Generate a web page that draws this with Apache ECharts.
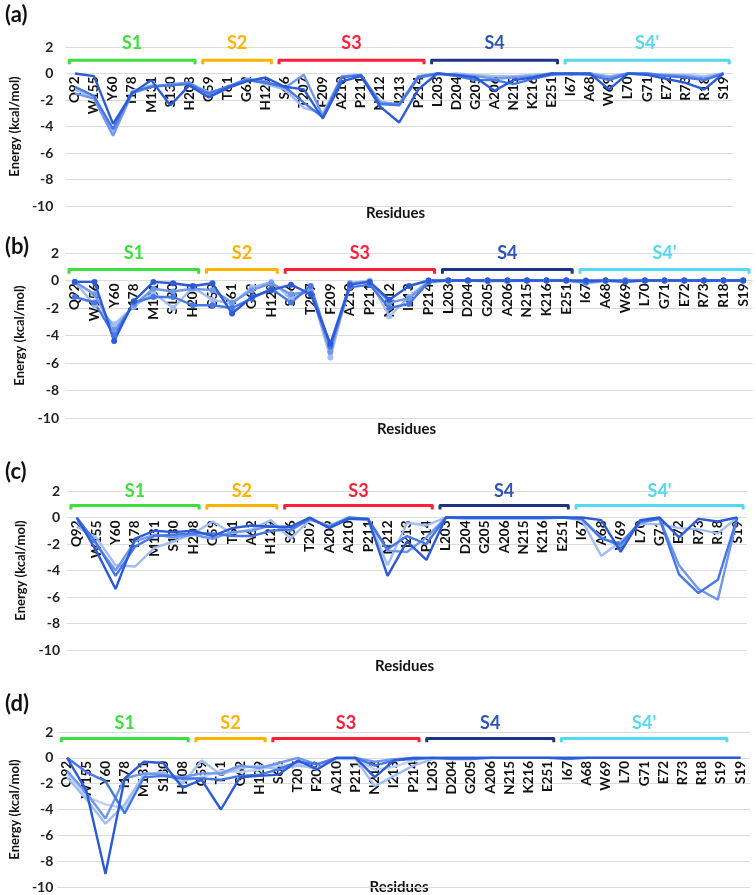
<!DOCTYPE html>
<html>
<head>
<meta charset="utf-8">
<script src="https://cdn.jsdelivr.net/npm/echarts@6/dist/echarts.min.js"></script>
<style>html,body{margin:0;padding:0;background:#fff}#c{width:756px;height:895px}</style>
</head>
<body>
<div id="c"></div>
<script>
// ---------- categories (tick labels) ----------
const catsA = ['Q92','W155','Y60','I178','M131','S130','H208','G59','T61','G62','H129','S66','T207','F209','A210','P211','N212','I213','P214','L203','D204','G205','A206','N215','K216','E251','I67','A68','W69','L70','G71','E72','R73','R18','S19'];
const catsB = ['Q92','W156','Y60','I178','M131','S130','H208','G59','T61','G62','H129','S66','T207','F209','A210','P211','N212','I213','P214','L203','D204','G205','A206','N215','K216','E251','I67','A68','W69','L70','G71','E72','R73','R18','S19'];
const catsC = ['Q92','W155','Y60','I178','M131','S130','H208','G59','T61','A62','H129','S66','T207','A209','A210','P211','N212','I213','P214','L203','D204','G205','A206','N215','K216','E251','I67','A68','W69','L70','G71','E72','R73','R18','S19'];
const catsD = ['Q92','W155','Y60','I178','M131','S130','H208','G59','T61','G62','H129','S66','T207','F209','A210','P211','N212','I213','P214','L203','D204','G205','A206','N215','K216','E251','I67','A68','W69','L70','G71','E72','R73','R18','S19','S19'];

const yTicks = [2, 0, -2, -4, -6, -8, -10];

// ---------- series values (kcal/mol) ----------
const a1 = [0,-0.2,-3.8,-1.5,-0.5,-2.4,-0.9,-1.8,-1.1,-0.6,-0.3,-1.0,-1.2,-3.4,-0.6,-0.2,-2.5,-3.7,-1.2,0,-0.1,-0.3,-1.3,-0.5,-0.3,0,0,0,-1.2,0,-0.1,-0.4,-0.7,-1.2,0];
const a2 = [-1.0,-1.7,-4.2,-1.4,-1.0,-0.9,-0.8,-1.5,-1.0,-0.5,-0.7,-1.0,-2.2,-3.3,-0.3,-0.1,-2.3,-2.4,-0.3,0,-0.2,-0.5,-0.5,-0.8,-0.4,-0.1,0,-0.1,-0.5,0,0,-0.2,-0.3,-0.5,0];
const a3 = [-1.5,-1.9,-4.7,-1.5,-1.0,-0.8,-0.7,-1.6,-1.0,-0.4,-0.6,-1.1,-0.1,-3.2,-0.2,-0.1,-2.2,-2.3,-0.2,0,-0.1,-0.2,-0.4,-0.3,-0.2,0,-0.1,0,-0.3,0,-0.1,-0.1,-0.2,-0.4,0];
const a4 = [-1.2,-1.8,-4.4,-1.3,-0.9,-0.9,-0.7,-1.4,-1.1,-0.4,-0.8,-1.2,-2.6,-3.0,-0.2,-0.2,-2.1,-2.4,-0.3,-0.1,0,-0.1,-0.2,-0.2,-0.1,0,0,0,-0.2,0,0,-0.1,-0.1,-0.2,0];

const b1 = [-0.1,-0.1,-4.4,-1.5,-0.1,-0.2,-0.4,-0.2,-2.4,-1.2,-0.7,-0.3,-1.0,-4.6,-0.3,-0.1,-1.4,-0.4,0,0,0,0,0,0,0,0,0,0,-0.1,0,0,0,0,0,0];
const b2 = [-1.2,-1.6,-4.0,-1.6,-1.2,-1.2,-1.8,-1.8,-2.0,-1.3,-0.6,-1.6,-0.4,-4.8,-0.5,-0.3,-2.0,-1.7,-0.1,0,0,0,0,0,0,0,-0.1,0,0,0,0,0,0,0,0];
const b3 = [-0.1,-1.0,-3.6,-1.8,-0.6,-0.8,-0.6,-0.7,-1.6,-0.7,-0.2,-1.0,-0.8,-5.2,-0.2,-0.1,-1.6,-1.3,-0.1,0,0,-0.05,0,0,0,0,-0.15,0,0,0,0,0,0,0,0];
const b4 = [-0.1,-1.8,-3.2,-1.9,-0.9,-2.0,-0.5,-1.4,-1.7,-0.5,-0.1,-1.3,-0.7,-5.6,-0.2,0,-2.6,-1.2,0,0,0,0,-0.05,0,0,0,-0.2,-0.05,-0.05,0,0,0,0,0,0];

const c1 = [0,-2.5,-5.4,-1.6,-1.0,-1.1,-1.0,-1.4,-0.8,-0.6,-0.7,-0.7,0,-0.8,-0.1,-0.1,-4.4,-1.8,-3.2,0,0,0,0,0,0,0,0,-0.2,-2.6,-0.2,0,-1.5,-0.1,-0.3,0];
const c2 = [0,-1.9,-4.4,-2.2,-1.4,-1.3,-1.2,-1.2,-1.4,-1.4,-1.0,-0.9,-0.1,-0.7,0,-0.1,-2.4,-1.4,-2.0,0,0,0,0,0,0,0,-0.1,-1.6,-2.0,-0.3,-0.1,-4.3,-5.7,-4.7,0];
const c3 = [-0.3,-2.0,-4.0,-1.8,-1.3,-1.5,-1.3,-1.6,-1.1,-1.0,-0.6,-1.0,-0.1,-0.7,-0.1,-0.2,-2.5,-2.6,-1.5,0,0,0,0,0,0,0,-0.1,-1.5,-2.2,-0.4,-0.1,-3.6,-5.4,-6.2,0];
const c4 = [-0.7,-1.5,-3.6,-3.7,-2.3,-1.8,-1.2,-0.3,-1.2,-0.9,-0.2,-1.6,-0.2,-0.6,0,-0.1,-3.6,-0.4,-0.6,0,-0.1,-0.1,-0.1,-0.1,-0.1,0,-0.2,-2.9,-1.8,-0.5,-0.5,-0.8,-0.9,-1.2,0];

const d1 = [0,-2.5,-9.0,-1.6,-0.3,-0.4,-2.3,-1.7,-4.0,-1.5,-1.4,-1.3,-0.2,-0.9,0,0,-1.5,-0.2,0,0,0,0,0,0,0,0,0,0,0,0,0,0,0,0,0,0];
const d2 = [0,-1.1,-1.8,-4.3,-1.5,-1.4,-1.6,-1.6,-1.7,-1.4,-1.3,-0.9,-0.3,-0.5,0,0,-0.6,-0.2,-0.1,0,-0.1,-0.1,0,0,0,0,-0.1,0,0,0,0,0,0,0,0,0];
const d3 = [-1.0,-2.7,-4.7,-1.6,-1.2,-1.3,-1.5,-1.2,-1.2,-0.6,-0.8,-0.4,0,-0.5,0,0,-0.3,-0.1,0,0,0,0,0,0,0,0,0,0,0,0,0,0,0,0,0,0];
const d4 = [-1.5,-3.2,-5.1,-3.6,-1.3,-1.1,-2.0,-0.2,-1.3,-0.8,-0.6,-0.9,-0.6,-0.8,-0.1,-0.1,-2.2,-1.4,-0.6,-0.1,0,0,0,0,0,0,0,0,0,0,0,0,0,0,0,0];
const d5 = [-1.2,-3.0,-3.6,-3.9,-1.2,-1.2,-1.8,-1.5,-1.0,-1.1,-0.9,-0.6,-0.5,-0.9,0,-0.1,-0.9,-0.7,-0.2,0,0,0,0,0,0,0,0,0,0,0,0,0,0,0,0,0];

// ---------- subsite groups (first / last residue, label) ----------
const groupNames = ['S1','S2','S3','S4',"S4'"];
const groupFrom  = ['Q92','G59','S66','L203','I67'];
const groupTo    = ['H208','H129','P214','E251','S19'];

// ---------- styles / layout ----------
const lineColors = ['#2b5bd7','#4677e4','#6f97ec','#a1bdf3','#bdd1f7'];
const groupTextColors = ['#3ddf3d','#ffb300','#ff1f3a','#2d55b5','#55d8f2'];
const groupLineColors = ['#3ddf3d','#ffb300','#ff1f3a','#1c3486','#55d8f2'];
const FONT = 'Lato, "Open Sans", sans-serif';
const Y_MIN = yTicks[yTicks.length - 1], Y_MAX = yTicks[0];

const panels = [
  {tag:'(a)', cats:catsA, series:[a1,a2,a3,a4], grid:{left:63, top:47, width:670, height:159}, lblMargin:12, nameGap:33, brk:1.0, txt:2.3, marks:false, tagTop:4, resTop:206},
  {tag:'(b)', cats:catsB, series:[b1,b2,b3,b4], grid:{left:65, top:253, width:688, height:165}, lblMargin:6, nameGap:35, brk:0.8, txt:2.0, marks:true, tagTop:236, resTop:422},
  {tag:'(c)', cats:catsC, series:[c1,c2,c3,c4], grid:{left:67, top:491, width:680, height:159}, lblMargin:7, nameGap:33, brk:0.9, txt:2.0, marks:false, tagTop:461, resTop:659},
  {tag:'(d)', cats:catsD, series:[d1,d2,d3,d4,d5], grid:{left:53, top:732, width:697, height:155}, lblMargin:4, nameGap:36, brk:1.5, txt:2.7, marks:false, tagTop:693, resTop:880}
];

const grids = [], xAxes = [], yAxes = [], series = [], graphics = [];
panels.forEach((p, gi) => {
  grids.push(Object.assign({containLabel:false}, p.grid));
  // category axis sits on the zero line of the value axis
  const zeroOffset = -p.grid.height * (0 - Y_MIN) / (Y_MAX - Y_MIN);
  xAxes.push({
    type:'category', gridIndex:gi, data:p.cats, boundaryGap:true, position:'bottom', offset:zeroOffset,
    axisLine:{show:false, onZero:false},
    axisTick:{show:false},
    axisLabel:{interval:0, rotate:90, margin:3, color:'#111', fontWeight:'bold', fontSize:13.5, fontFamily:FONT}
  });
  yAxes.push({
    type:'value', gridIndex:gi, min:Y_MIN, max:Y_MAX, interval:2,
    name:'Energy (kcal/mol)', nameLocation:'middle', nameGap:p.nameGap,
    nameTextStyle:{fontWeight:'bold', fontSize:13, color:'#111', fontFamily:FONT},
    axisLine:{show:false}, axisTick:{show:false},
    axisLabel:{margin:p.lblMargin, color:'#222', fontWeight:'bold', fontSize:14, fontFamily:FONT},
    splitLine:{show:true, lineStyle:{color:'#dcdcdc', width:1}}
  });
  const n = p.series.length;
  for (let k = n - 1; k >= 0; k--) {
    series.push({
      type:'line', xAxisIndex:gi, yAxisIndex:gi, data:p.series[k],
      symbol: p.marks ? 'circle' : 'none', symbolSize:6, showSymbol:p.marks,
      lineStyle:{color:lineColors[k], width:2.4}, itemStyle:{color:lineColors[k]},
      emphasis:{disabled:true}, animation:false, z:3
    });
  }
  const bData = groupNames.map((g, i) => [p.cats.indexOf(groupFrom[i]), p.cats.indexOf(groupTo[i]), i]);
  series.push({
    type:'custom', xAxisIndex:gi, yAxisIndex:gi, data:bData, animation:false, clip:false, z:4,
    encode:{x:[0,1]},
    renderItem:(params, api) => {
      const i0 = api.value(0), i1 = api.value(1), gidx = api.value(2);
      const band = api.size([1, 0])[0];
      const pa = api.coord([i0, p.brk]);
      const pb = api.coord([i1, p.brk]);
      const yTick = api.coord([i0, p.brk - 0.3])[1];
      const x0 = pa[0] - band * 0.3, x1 = pb[0] + band * 0.3;
      const pt = api.coord([i0, p.txt]);
      return {type:'group', children:[
        {type:'polyline', shape:{points:[[x0,yTick],[x0,pa[1]],[x1,pa[1]],[x1,yTick]]},
         style:{stroke:groupLineColors[gidx], lineWidth:3, fill:null, lineJoin:'round'}},
        {type:'text', x:(x0+x1)/2, y:pt[1],
         style:{text:groupNames[gidx], fill:groupTextColors[gidx], font:'bold 18px ' + FONT, align:'center', verticalAlign:'middle'}}
      ]};
    }
  });
  graphics.push({type:'text', left:5, top:p.tagTop, style:{text:p.tag, font:'bold 22px ' + FONT, fill:'#111'}});
  graphics.push({type:'text', left:p.grid.left + p.grid.width/2 - 32, top:p.resTop, style:{text:'Residues', font:'bold 15px ' + FONT, fill:'#111'}});
});

const chart = echarts.init(document.getElementById('c'), null, {renderer:'canvas'});
chart.setOption({
  animation:false, backgroundColor:'#fff',
  grid:grids, xAxis:xAxes, yAxis:yAxes, series:series, graphic:graphics
});
</script>
</body>
</html>
